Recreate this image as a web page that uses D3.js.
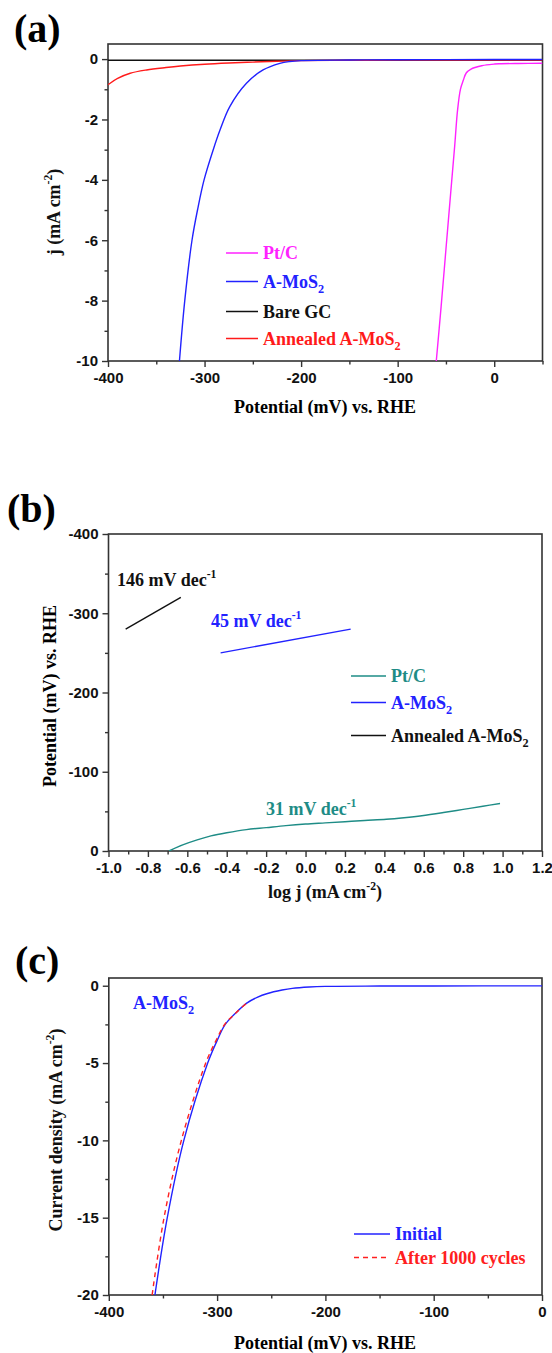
<!DOCTYPE html>
<html><head><meta charset="utf-8">
<script src="https://cdn.jsdelivr.net/npm/d3@7"></script>
<style>
body{margin:0;background:#fff}
.tick text{font-family:"Liberation Sans",Arial,sans-serif;font-weight:bold;font-size:15px;fill:#111}
.serif{font-family:"Liberation Serif","Times New Roman",serif;font-weight:bold}
</style>
</head><body>
<svg id="chart" width="552" height="1353"></svg>
<script>
// ---------- Panel (a): polarization curves (potential mV, j mA cm-2) ----------
const aPtC = [[-60,-10],[-55,-8.2],[-50,-6.3],[-45,-4.4],[-41,-2.9],[-38,-1.7],[-35,-1.0],[-32,-0.7],[-29,-0.46],[-24,-0.33],[-19,-0.27],[-13,-0.22],[-8,-0.19],[0,-0.165],[5,-0.155],[25,-0.145],[50,-0.14]];
const aMoS2 = [[-326,-10],[-320.5,-8],[-313,-6],[-307,-4.95],[-300.5,-4],[-291,-3],[-284,-2.35],[-274,-1.58],[-256.6,-0.8],[-239.4,-0.36],[-222,-0.14],[-212,-0.08],[-200,-0.05],[-150,-0.03],[-100,-0.02],[0,-0.015],[50,-0.015]];
const aBareGC = [[-400,-0.04],[-200,-0.04],[0,-0.04],[50,-0.04]];
const aAnnealed = [[-400,-0.85],[-390,-0.64],[-377,-0.47],[-360,-0.36],[-340,-0.28],[-325,-0.23],[-300,-0.17],[-275,-0.13],[-250,-0.1],[-225,-0.07],[-200,-0.05],[-150,-0.04],[-100,-0.035],[0,-0.03],[50,-0.03]];
const aXTicks = [-400,-300,-200,-100,0];
const aXMinor = [-350,-250,-150,-50,50];
const aYTicks = [0,-2,-4,-6,-8,-10];
const aYMinor = [-1,-3,-5,-7,-9];
const aLegend = ["Pt/C","A-MoS","Bare GC","Annealed A-MoS"];

// ---------- Panel (b): Tafel plots (log j, potential mV) ----------
const bPtC = [[-0.693,0],[-0.62,-8],[-0.55,-14],[-0.48,-19],[-0.4,-23],[-0.3,-27],[-0.2,-29.5],[-0.1,-32],[0.0,-34],[0.1,-35.5],[0.2,-37],[0.3,-38.5],[0.41,-40],[0.5,-42],[0.59,-44.5],[0.7,-48.5],[0.8,-52.5],[0.9,-56.5],[0.987,-60]];
const bMoS2 = [[-0.431,-250],[0.229,-280]];
const bAnnealed = [[-0.913,-280],[-0.633,-320]];
const bXTicks = [-1.0,-0.8,-0.6,-0.4,-0.2,0.0,0.2,0.4,0.6,0.8,1.0,1.2];
const bXMinor = [-0.9,-0.7,-0.5,-0.3,-0.1,0.1,0.3,0.5,0.7,0.9,1.1];
const bYTicks = [-400,-300,-200,-100,0];
const bYMinor = [-350,-250,-150,-50];
const bSlopes = ["146 mV dec","45 mV dec","31 mV dec"];
const bLegend = ["Pt/C","A-MoS","Annealed A-MoS"];

// ---------- Panel (c): stability ----------
const cInitial = [[-357.4,-20],[-346,-15],[-330.7,-10],[-308.7,-5],[-300,-3.55],[-292.5,-2.5],[-283,-1.78],[-273,-1.14],[-263,-0.75],[-253.4,-0.5],[-240,-0.28],[-230.6,-0.17],[-215,-0.08],[-200,-0.04],[-150,-0.02],[-100,-0.015],[0,-0.01]];
const cAfter = [[-360,-20],[-349,-15],[-333,-10],[-310.5,-5],[-301,-3.55],[-293,-2.5],[-283,-1.78],[-273,-1.14]];
const cXTicks = [-400,-300,-200,-100,0];
const cXMinor = [-350,-250,-150,-50];
const cYTicks = [0,-5,-10,-15,-20];
const cYMinor = [-2.5,-7.5,-12.5,-17.5];
const cLegend = ["Initial","After 1000 cycles"];

const svg = d3.select("#chart");
const AX = "#333";

function frame(g, x, y, o){
  const [x0,x1] = x.range(), [y0,y1] = y.range();
  const bottom = Math.max(y0,y1), top = Math.min(y0,y1);
  const xa = g.append("g").attr("transform",`translate(0,${bottom})`)
    .call(d3.axisBottom(x).tickValues(o.xt).tickSize(6).tickPadding(5).tickFormat(o.xf));
  const xm = g.append("g").attr("transform",`translate(0,${bottom})`)
    .call(d3.axisBottom(x).tickValues(o.xm).tickSize(3.5).tickFormat(""));
  const ya = g.append("g").attr("transform",`translate(${x0},0)`)
    .call(d3.axisLeft(y).tickValues(o.yt).tickSize(6).tickPadding(4).tickFormat(o.yf));
  const ym = g.append("g").attr("transform",`translate(${x0},0)`)
    .call(d3.axisLeft(y).tickValues(o.ym).tickSize(3.5).tickFormat(""));
  [xa,xm,ya,ym].forEach(a=>{a.select(".domain").remove();a.selectAll("line").attr("stroke",AX).attr("stroke-width",1.4);});
  g.append("rect").attr("x",x0).attr("y",top).attr("width",x1-x0).attr("height",bottom-top)
    .attr("fill","none").attr("stroke",AX).attr("stroke-width",1.6);
}
function fmtInt(d){return String(d);}
function fmt1(d){return (d<0?"-":"")+Math.abs(d).toFixed(1);}

function curve(g, data, x, y, color, dash){
  const p = g.append("path").datum(data)
    .attr("d", d3.line().x(d=>x(d[0])).y(d=>y(d[1])).curve(d3.curveCatmullRom.alpha(0.5)))
    .attr("fill","none").attr("stroke",color).attr("stroke-width",1.4);
  if(dash) p.attr("stroke-dasharray",dash);
}
function clip(id, x, y){
  const [x0,x1]=x.range(), ys=y.range();
  svg.append("clipPath").attr("id",id).append("rect")
    .attr("x",x0).attr("y",Math.min(...ys)).attr("width",x1-x0).attr("height",Math.abs(ys[1]-ys[0]));
  return svg.append("g").attr("clip-path",`url(#${id})`);
}
function labelSub(g, xp, yp, txt, color, size, sub){
  const t = g.append("text").attr("class","serif").attr("x",xp).attr("y",yp)
    .attr("font-size",size).attr("fill",color).text(txt);
  if(sub) t.append("tspan").attr("font-size",size*0.68).attr("dy",size*0.3).text(sub);
  return t;
}
function labelSup(g, xp, yp, txt, sup, after, color, size, anchor, rotate){
  const t = g.append("text").attr("class","serif").attr("font-size",size).attr("fill",color)
    .attr("text-anchor",anchor||"start");
  if(rotate){ t.attr("transform",`translate(${xp},${yp}) rotate(-90)`); }
  else t.attr("x",xp).attr("y",yp);
  t.append("tspan").text(txt);
  t.append("tspan").attr("font-size",size*0.65).attr("dy",-size*0.42).text(sup);
  if(after) t.append("tspan").attr("dy",size*0.42).text(after);
  return t;
}
function legendRow(g, x1, x2, yl, color, txt, sub, dash){
  const l = g.append("line").attr("x1",x1).attr("x2",x2).attr("y1",yl).attr("y2",yl)
    .attr("stroke",color).attr("stroke-width",1.5);
  if(dash) l.attr("stroke-dasharray",dash);
  labelSub(g, x2+5, yl+6, txt, color, 18, sub);
}
function panelLabel(xp, yp, t){
  svg.append("text").attr("class","serif").attr("x",xp).attr("y",yp).attr("font-size",40).attr("fill","#000").text(t);
}

// ===== Panel (a) =====
{
  const x = d3.scaleLinear().domain([-400,50]).range([108,542.5]);
  const y = d3.scaleLinear().domain([0.5,-10]).range([44,361]);
  const g = svg.append("g");
  const cg = clip("clipA", x, y);
  curve(cg, aBareGC, x, y, "#111");
  curve(cg, aAnnealed, x, y, "#ff1a1a");
  curve(cg, aPtC, x, y, "#ff22ff");
  curve(cg, aMoS2, x, y, "#2222ff");
  frame(g, x, y, {xt:aXTicks, xm:aXMinor, yt:aYTicks, ym:aYMinor, xf:fmtInt, yf:fmtInt});
  legendRow(g, 226, 258, 253, "#ff22ff", aLegend[0]);
  legendRow(g, 226, 258, 281.5, "#2222ff", aLegend[1], "2");
  legendRow(g, 226, 258, 311.5, "#111", aLegend[2]);
  legendRow(g, 226, 258, 338.5, "#ff1a1a", aLegend[3], "2");
  g.append("text").attr("class","serif").attr("x",325).attr("y",413).attr("text-anchor","middle")
    .attr("font-size",18).text("Potential (mV) vs. RHE");
  labelSup(g, 60, 212, "j (mA cm", "-2", ")", "#111", 18, "middle", true);
  panelLabel(14, 42, "(a)");
}

// ===== Panel (b) =====
{
  const x = d3.scaleLinear().domain([-1.0,1.2]).range([108.5,542]);
  const y = d3.scaleLinear().domain([0,-400]).range([851,534]);
  const g = svg.append("g");
  const cg = clip("clipB", x, y);
  curve(cg, bPtC, x, y, "#1e8c86");
  curve(cg, bMoS2, x, y, "#2222ff");
  curve(cg, bAnnealed, x, y, "#111");
  frame(g, x, y, {xt:bXTicks, xm:bXMinor, yt:bYTicks, ym:bYMinor, xf:fmt1, yf:fmtInt});
  labelSup(g, 117, 586, bSlopes[0], "-1", null, "#111", 18);
  labelSup(g, 211, 627, bSlopes[1], "-1", null, "#2222ff", 18);
  labelSup(g, 266, 815, bSlopes[2], "-1", null, "#1e8c86", 18);
  legendRow(g, 351, 386, 676, "#1e8c86", bLegend[0]);
  legendRow(g, 351, 386, 702.5, "#2222ff", bLegend[1], "2");
  legendRow(g, 351, 386, 735.5, "#111", bLegend[2], "2");
  labelSup(g, 325, 898, "log j (mA cm", "-2", ")", "#111", 18, "middle");
  g.append("text").attr("class","serif").attr("transform","translate(56,696) rotate(-90)")
    .attr("text-anchor","middle").attr("font-size",18).text("Potential (mV) vs. RHE");
  panelLabel(7, 522, "(b)");
}

// ===== Panel (c) =====
{
  const x = d3.scaleLinear().domain([-400,0]).range([108.8,542]);
  const y = d3.scaleLinear().domain([0.5,-20]).range([978,1295]);
  const g = svg.append("g");
  const cg = clip("clipC", x, y);
  curve(cg, cInitial, x, y, "#2222ff");
  curve(cg, cAfter, x, y, "#ff2020", "5,4");
  frame(g, x, y, {xt:cXTicks, xm:cXMinor, yt:cYTicks, ym:cYMinor, xf:fmtInt, yf:fmtInt});
  labelSub(g, 133, 1009, "A-MoS", "#2222ff", 18, "2");
  legendRow(g, 354, 390, 1234, "#2222ff", cLegend[0]);
  legendRow(g, 354, 390, 1257.5, "#ff2020", cLegend[1], null, "5,4");
  g.append("text").attr("class","serif").attr("x",325).attr("y",1349).attr("text-anchor","middle")
    .attr("font-size",18).text("Potential (mV) vs. RHE");
  labelSup(g, 62, 1130, "Current density (mA cm", "-2", ")", "#111", 18, "middle", true);
  panelLabel(15, 974, "(c)");
}
</script>
</body></html>
